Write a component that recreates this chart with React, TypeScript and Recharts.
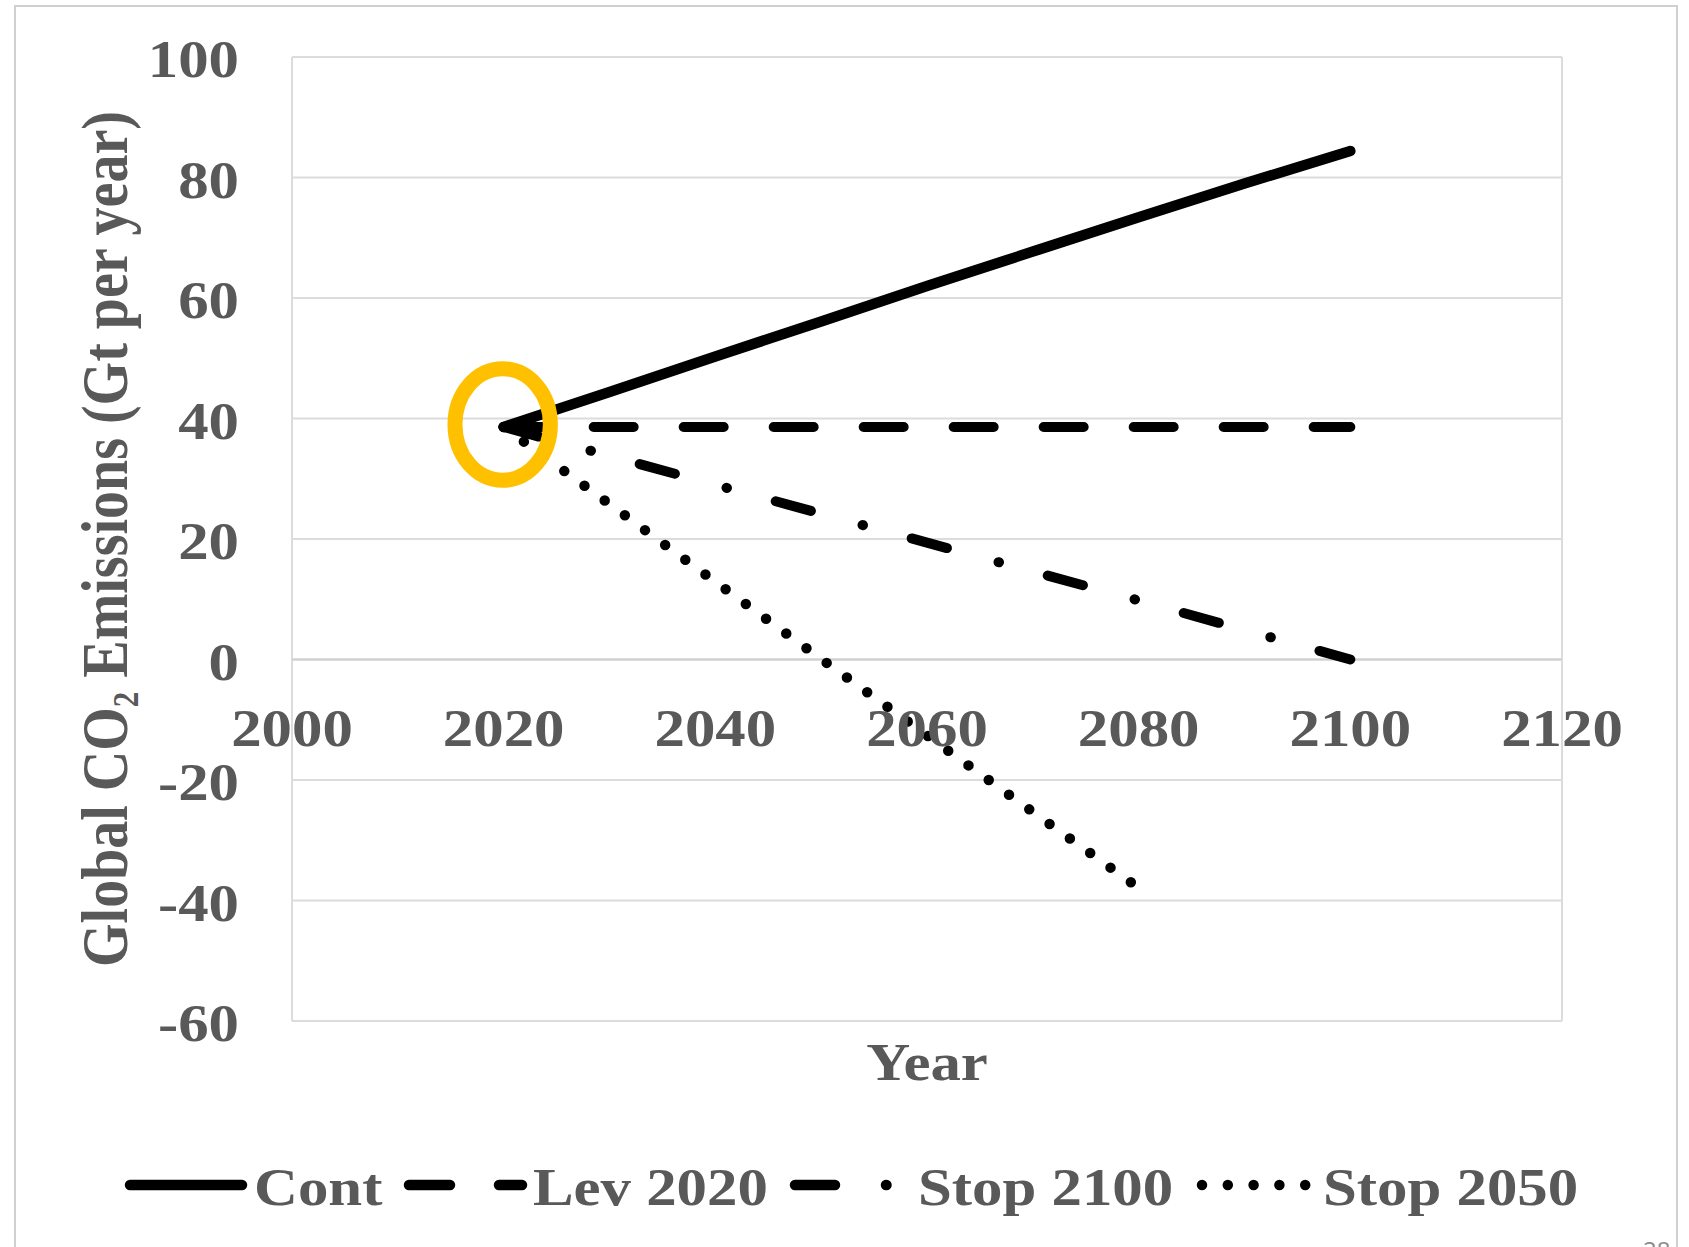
import React from "react";
import {
    LineChart,
    Line,
    XAxis,
    YAxis,
    CartesianGrid,
    ReferenceDot,
    ReferenceLine,
    Legend
} from "recharts";

// values (Gt CO2 per year)
const years = [2020, 2030, 2040, 2050, 2060, 2070, 2080, 2090, 2100];
const contValues = [38.6, 44.4, 50.3, 56.1, 62.0, 67.7, 73.4, 79.0, 84.4];
const lev2020Values = [38.6, 38.6, 38.6, 38.6, 38.6, 38.6, 38.6, 38.6, 38.6];
const stop2100Values = [38.6, 33.8, 29.0, 24.2, 19.4, 14.6, 9.8, 4.9, 0];
const stop2050Values = [38.6, 25.8, 12.9, 0.1, -12.6, -25.3, -37.9, null, null];

const xTicks = [2000, 2020, 2040, 2060, 2080, 2100, 2120];
const yTicks = [-60, -40, -20, 0, 20, 40, 60, 80, 100];

const seriesKeys = ["cont", "lev2020", "stop2100", "stop2050"];
const seriesNames = ["Cont", "Lev 2020", "Stop 2100", "Stop 2050"];

// the circled starting point
const highlightYear = 2020;
const highlightValue = 39;

const data = years.map((year, i) => ({
    year,
    cont: contValues[i],
    lev2020: lev2020Values[i],
    stop2100: stop2100Values[i],
    stop2050: stop2050Values[i]
}));

const FONT = '"Liberation Serif", "Times New Roman", serif';
const TEXT = "#595959";
// the slide picture is stretched sideways a bit
const STRETCH = 1.17;

const lineStyles: Record<string, { width: number; dash?: string }> = {
    cont: { width: 10.5 },
    lev2020: { width: 10, dash: "40 50" },
    stop2100: { width: 10, dash: "36.5 53.5 0.5 50.5" },
    stop2050: { width: 10.5, dash: "0 25" }
};

const legendStyles = [
    { x0: 130, x1: 242, dash: undefined, textX: 254 },
    { x0: 409, x1: 522, dash: "41 49", textX: 533 },
    { x0: 795, x1: 887, dash: "40 51 0.5 100", textX: 918 },
    { x0: 1202, x1: 1306, dash: "0 25.8", textX: 1323 }
];

const Stretched = ({ x, y, anchor, size, children }: any) => (
    <g transform={`translate(${x},${y}) scale(${STRETCH},1)`}>
        <text textAnchor={anchor} fontFamily={FONT} fontWeight="bold" fontSize={size} fill={TEXT}>
            {children}
        </text>
    </g>
);

const YTick = (props: any) => {
    const { x, y, payload } = props;
    return <Stretched x={x} y={y + 20} anchor="end" size={52}>{payload.value}</Stretched>;
};

const renderYLabel = (props: any) => {
    const vb = props.viewBox || { x: 0, y: 57, width: 292, height: 964 };
    const cy = vb.y + vb.height / 2;
    return (
        <g transform={`translate(127,${cy}) scale(${STRETCH},1) rotate(-90)`}>
            <text textAnchor="middle" fontFamily={FONT} fontWeight="bold" fontSize={56} fill={TEXT}>
                Global CO<tspan fontSize={31} dy={9}>2</tspan>
                <tspan dy={-9}> Emissions (Gt per year)</tspan>
            </text>
        </g>
    );
};

const renderYearLabel = (props: any) => {
    const vb = props.viewBox || { x: 292, y: 1021, width: 1270, height: 226 };
    return <Stretched x={vb.x + vb.width / 2} y={vb.y + 59} anchor="middle" size={52}>Year</Stretched>;
};

const renderLegend = () => (
    <svg width={1689} height={80}>
        {seriesNames.map((name, i) => {
            const s = legendStyles[i];
            return (
                <g key={name}>
                    <line x1={s.x0} x2={s.x1} y1={35} y2={35} stroke="#000" strokeWidth={10.5}
                          strokeLinecap="round" strokeDasharray={s.dash} />
                    <Stretched x={s.textX} y={55} anchor="start" size={52}>{name}</Stretched>
                </g>
            );
        })}
    </svg>
);

export default function App() {
    return (
        <div style={{ position: "absolute", left: 0, top: 0, width: 1689, height: 1247, overflow: "hidden", background: "#fff" }}>
            <div style={{ position: "absolute", left: 14, top: 5, width: 1660, height: 1300, border: "2px solid #d0d0d0" }} />
            <svg style={{ position: "absolute", left: 0, top: 0 }} width={1689} height={1247}>
                <text x={1643} y={1259} fontFamily="Open Sans" fontSize={24} fill="#8a8a8a">28</text>
            </svg>
            <div style={{ position: "absolute", left: 0, top: 0 }}>
                <LineChart width={1689} height={1247} data={data}
                           margin={{ top: 57, right: 127, bottom: 0, left: 0 }}>
                    <CartesianGrid stroke="#dcdcdc" strokeWidth={2} />
                    <XAxis type="number" dataKey="year" domain={[2000, 2120]} ticks={xTicks}
                           tick={false} axisLine={false} tickLine={false} height={226}
                           label={renderYearLabel} />
                    <YAxis type="number" domain={[-60, 100]} ticks={yTicks} interval={0}
                           axisLine={false} tickLine={false} tickSize={0} tickMargin={53} width={292}
                           tick={YTick} label={renderYLabel} />
                    <ReferenceLine y={0} stroke="#cfcfcf" strokeWidth={2} />
                    {xTicks.map(t => (
                        <ReferenceDot key={t} x={t} y={0} r={0} ifOverflow="visible"
                                      shape={(p: any) => (
                                          <Stretched x={p.cx} y={p.cy + 86.5} anchor="middle" size={52}>{t}</Stretched>
                                      )} />
                    ))}
                    {seriesKeys.map((key, i) => (
                        <Line key={key} type="linear" dataKey={key} name={seriesNames[i]}
                              stroke="#000" strokeWidth={lineStyles[key].width}
                              strokeDasharray={lineStyles[key].dash} strokeLinecap="round"
                              dot={false} activeDot={false} connectNulls={false}
                              isAnimationActive={false} />
                    ))}
                    <ReferenceDot x={highlightYear} y={highlightValue} r={0} ifOverflow="visible"
                                  shape={(p: any) => (
                                      <ellipse cx={p.cx - 1} cy={p.cy} rx={47.7} ry={55.8}
                                               fill="none" stroke="#FFC000" strokeWidth={15} />
                                  )} />
                    <Legend layout="horizontal" verticalAlign="middle" align="center"
                            content={renderLegend}
                            wrapperStyle={{ top: 1150, left: 0, width: 1689, height: 80 }} />
                </LineChart>
            </div>
        </div>
    );
}
